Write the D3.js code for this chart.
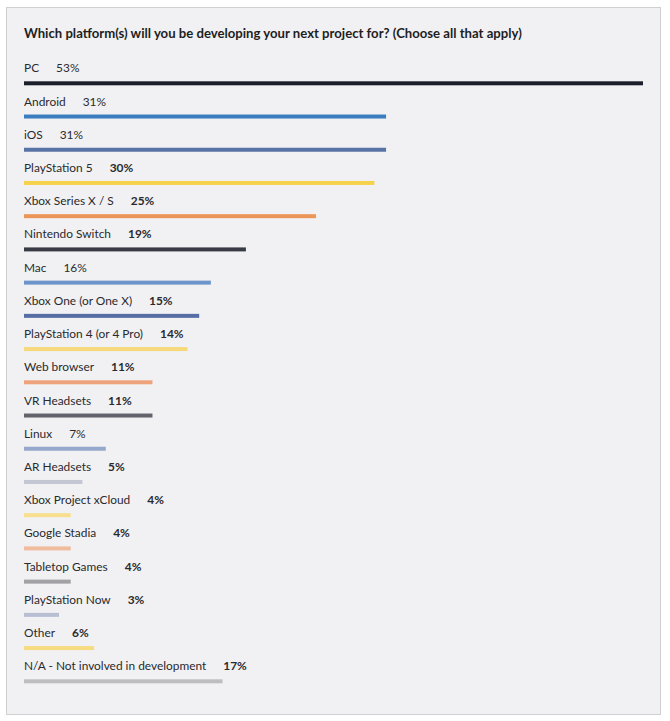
<!DOCTYPE html>
<html><head><meta charset="utf-8">
<script src="https://cdn.jsdelivr.net/npm/d3@7"></script>
<style>
html,body{margin:0;padding:0;background:#ffffff;}
svg{display:block;}
</style></head>
<body>
<script>
const title = "Which platform(s) will you be developing your next project for? (Choose all that apply)";
const categories = ["PC","Android","iOS","PlayStation 5","Xbox Series X / S","Nintendo Switch","Mac","Xbox One (or One X)","PlayStation 4 (or 4 Pro)","Web browser","VR Headsets","Linux","AR Headsets","Xbox Project xCloud","Google Stadia","Tabletop Games","PlayStation Now","Other","N/A - Not involved in development"];
const values = [53,31,31,30,25,19,16,15,14,11,11,7,5,4,4,4,3,6,17];
const boldValue = [false,false,false,true,true,true,false,true,true,true,true,false,true,true,true,true,true,true,true];
const colors = ["#1b1f29","#3b7dbf","#5873a6","#f6d24c","#eb9558","#383b45","#6d95cc","#566ea3","#f6d97a","#eea37c","#63646b","#95a7cb","#c3c6d3","#f7df8e","#f1bb9d","#a1a1a6","#b9bfd3","#f7db80","#bebec1"];

const W = 670, H = 721;
const svg = d3.select("body").append("svg").attr("width", W).attr("height", H);

svg.append("rect").attr("x", 6.5).attr("y", 7.5).attr("width", 654).attr("height", 707)
  .attr("fill", "#f1f1f3").attr("stroke", "#d0d0d3").attr("stroke-width", 1);

svg.append("text").attr("x", 24).attr("y", 38)
  .attr("font-family", "Lato, sans-serif").attr("font-weight", "bold").attr("font-size", 13.15)
  .attr("fill", "#1e1e22").text(title);

const x = d3.scaleLinear().domain([0, 53]).range([24, 643]);
const y = d3.scalePoint().domain(categories).range([83.3, 681.3]);

const rows = categories.map((c, i) => ({c, v: values[i], b: boldValue[i], col: colors[i]}));

const g = svg.selectAll("g.row").data(rows).join("g").attr("class", "row");

g.append("rect")
  .attr("x", x(0)).attr("y", d => y(d.c) - 2)
  .attr("width", d => x(d.v) - x(0)).attr("height", 4)
  .attr("fill", d => d.col);

const t = g.append("text")
  .attr("x", x(0)).attr("y", d => y(d.c) - 11)
  .attr("font-family", "Lato, sans-serif").attr("font-size", 11.9).attr("fill", "#2a2a2e");
t.append("tspan").text(d => d.c);
t.append("tspan").attr("dx", 17).attr("font-weight", d => d.b ? "bold" : "normal").text(d => d.v + "%");
</script>
</body></html>
